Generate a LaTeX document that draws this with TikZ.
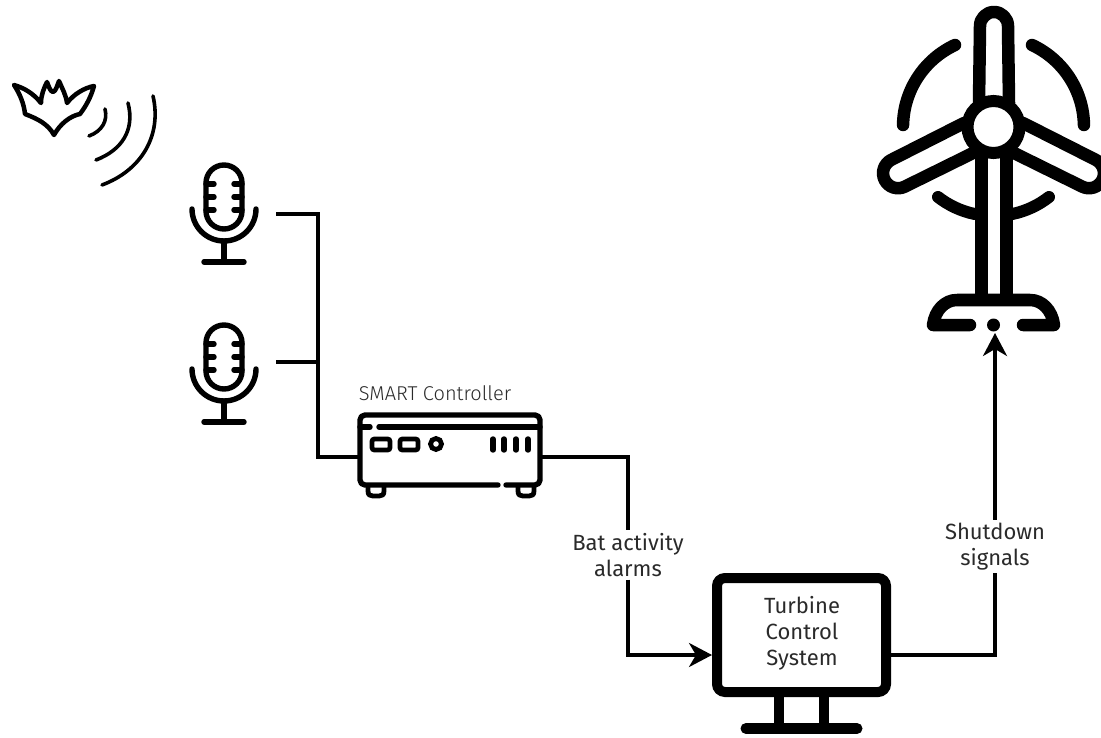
\documentclass[tikz,border=0pt]{standalone}
\usepackage{fontspec}
\setmainfont{Fira Sans}
\newfontfamily\lightface{Fira Sans Light}
\usetikzlibrary{arrows.meta}
\definecolor{ink}{HTML}{2A2A2A}
\tikzset{
  wire/.style={line width=3.4pt,draw=black},
  arrowwire/.style={wire,-{Stealth[length=23pt,width=24pt,inset=7pt]}},
  anchorbox/.style={inner sep=0pt,outer sep=0pt,draw=none},
  txt/.style={font=\fontsize{22}{26}\selectfont,text=ink,align=center,inner sep=0pt,outer sep=0pt},
  tag/.style={txt,fill=white,inner xsep=2pt,inner ysep=3pt},
  mid icon/.style={line width=5.4pt,line cap=round,line join=round,draw=black},
  bold icon/.style={line width=12.5pt,line cap=round,line join=round,draw=black},
  screen/.style={draw=black,line width=10pt,rounded corners=8pt,fill=white,minimum width=169pt,minimum height=114pt,outer sep=5pt,inner sep=0pt},
}
\newcommand{\micicon}[1]{%
  \begin{scope}[yshift=#1]
    \draw[mid icon] (206,183) arc[start angle=180,end angle=360,radius=18] -- (242,211) arc[start angle=0,end angle=180,radius=18] -- cycle;
    \foreach \yy in {184,197,210}{
      \draw[mid icon] (206,\yy) -- (214,\yy);
      \draw[mid icon] (234,\yy) -- (242,\yy);
    }
    \draw[mid icon] (192,209) arc[start angle=180,end angle=0,radius=32];
    \draw[mid icon] (224,241) -- (224,262);
    \draw[mid icon] (204,262) -- (244,262);
  \end{scope}}
\begin{document}
\begin{tikzpicture}[x=1pt,y=1pt,yscale=-1]
\useasboundingbox (0,0) rectangle (1101,738);

% bat
\draw[line width=4.5pt,line join=round,line cap=round]
  (14,85) .. controls (24,88) and (33,93) .. (41,103)
  .. controls (41,95) and (44,88) .. (47,82)
  .. controls (49,87) and (50,91) .. (53,92)
  .. controls (56,91) and (57,86) .. (59,81)
  .. controls (62,88) and (66,95) .. (67,103)
  .. controls (74,94) and (84,88) .. (94,86)
  .. controls (91,97) and (86,106) .. (80,114)
  .. controls (70,116) and (60,124) .. (54,135)
  .. controls (48,124) and (38,119) .. (25,114)
  .. controls (24,104) and (20,94) .. cycle;
% sound waves
\draw[line width=3.6pt,line cap=round] (105,109) .. controls (108,121) and (102,131) .. (89,136);
\draw[line width=3.6pt,line cap=round] (128,103) .. controls (135,130) and (122,150) .. (96,160);
\draw[line width=3.6pt,line cap=round] (153,96) .. controls (162,135) and (142,170) .. (102,185);

% microphones
\micicon{0pt}
\micicon{160pt}
\node[anchorbox,minimum width=104pt,minimum height=100pt] (mic1) at (224,214) {};
\node[anchorbox,minimum width=104pt,minimum height=100pt] (mic2) at (224,362) {};

% controller
\node[anchorbox,minimum width=184pt,minimum height=1pt] (ctrl) at (450,457) {};
\draw[mid icon] (498,485) -- (365,485) arc[start angle=90,end angle=180,radius=5] -- (360,420)
  arc[start angle=180,end angle=270,radius=5] -- (535,415) arc[start angle=270,end angle=360,radius=5] -- (540,480)
  arc[start angle=0,end angle=90,radius=5] -- (506,485);
\draw[mid icon] (360,427) -- (370,427);
\draw[mid icon] (379,427) -- (540,427);
\draw[line width=4.8pt,rounded corners=2.5pt] (372,439) rectangle (390,450);
\draw[line width=4.8pt,rounded corners=2.5pt] (400,439) rectangle (418,450);
\draw[line width=4.8pt] (436,444) circle[radius=5.5];
\foreach \xx in {493,504,516,528}{\draw[mid icon] (\xx,439) -- (\xx,450);}
\draw[line width=4.8pt,line cap=round,line join=round] (368,487) -- (368,491) .. controls (368,495) and (370,496) .. (373,496) -- (379,496) .. controls (382,496) and (384,495) .. (384,491) -- (384,487);
\draw[line width=4.8pt,line cap=round,line join=round] (518,487) -- (518,491) .. controls (518,495) and (520,496) .. (523,496) -- (529,496) .. controls (532,496) and (534,495) .. (534,491) -- (534,487);
\node[txt,font=\lightface\fontsize{20}{24}\selectfont] (ctrllabel) at (435,393) {SMART Controller};

% monitor
\draw[line width=10pt] (779,697) -- (779,728);
\draw[line width=10pt] (824,697) -- (824,728);
\draw[line width=11pt,line cap=round] (746,728.5) -- (857,728.5);
\node[screen] (tcs) at (801.5,635) {};
\node[anchorbox,minimum width=179pt,minimum height=1pt] (tcsport) at (801.5,655) {};
\node[txt] (tcstext) at (802,633.5) {Turbine\\Control\\System};

% wind turbine
\draw[bold icon] (979,103) -- (980,26) arc[start angle=180,end angle=360,radius=14] -- (1009,103);
\draw[bold icon] (964,123) -- (891,160) arc[start angle=242,end angle=64.5,radius=15] -- (975,152);
\draw[bold icon] (1023,123) -- (1096,160) arc[start angle=-62,end angle=115.5,radius=15] -- (1012,152);
\draw[line width=13pt] (981.5,150) -- (981.5,300);
\draw[line width=13pt] (1006.5,150) -- (1006.5,300);
\draw[line width=12pt,draw=black,fill=white] (993.5,127) circle[radius=26];
\draw[bold icon] (955,45) arc[start angle=245,end angle=181,radius=90];
\draw[bold icon] (1032,45) arc[start angle=-65,end angle=-1,radius=90];
\draw[line width=12pt,line cap=round] (938,197) arc[start angle=128,end angle=102,radius=89];
\draw[line width=12pt,line cap=round] (1049,197) arc[start angle=52,end angle=78,radius=89];
\draw[bold icon] (970,325) -- (933,325) .. controls (935,310) and (945,300) .. (957,300) -- (1030,300) .. controls (1042,300) and (1052,310) .. (1054,325) -- (1023,325);
\fill (993.5,325) circle[radius=6.5];
\coordinate (turbinein) at (995,333);

% labels on the wires
\node[tag] (alarms) at (628,555) {Bat activity\\alarms};
\node[tag] (shutdown) at (995,546.5) {Shutdown\\signals};

% connectors
\draw[wire] (mic1.east) -- ++(42,0) |- (ctrl.west);
\draw[wire] (mic2.east) -- ++(42,0);
\draw[wire] (ctrl.east) -| (alarms.north);
\draw[arrowwire] (alarms.south) |- (tcsport.west);
\draw[wire] (tcsport.east) -| (shutdown.south);
\draw[arrowwire] (shutdown.north) -- (turbinein);
\end{tikzpicture}
\end{document}
